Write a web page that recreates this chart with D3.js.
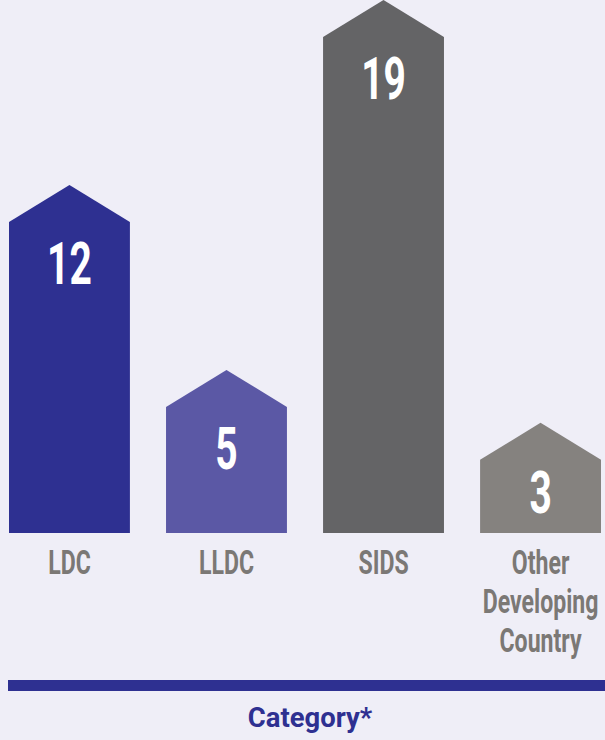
<!DOCTYPE html>
<html>
<head>
<meta charset="utf-8">
<script src="https://cdn.jsdelivr.net/npm/d3@7"></script>
<style>
  html, body { margin: 0; padding: 0; background: #efeef7; }
  svg { display: block; }
  text { font-family: Roboto, "Liberation Sans", sans-serif; font-weight: 700; }
</style>
</head>
<body>
<div id="chart"></div>
<script>
const categories = ["LDC", "LLDC", "SIDS", "Other Developing Country"];
const labelLines = [["LDC"], ["LLDC"], ["SIDS"], ["Other", "Developing", "Country"]];
const values = [12, 5, 19, 3];
const colors = ["#2e3091", "#5b58a5", "#646466", "#85827f"];
const axisTitle = "Category*";

const width = 605, height = 740;
const baseY = 533;   // bottom of the bars
const roof = 37;     // height of the pointed top

let svg = d3.select("#chart").append("svg")
  .attr("width", width)
  .attr("height", height);

let x = d3.scaleBand()
  .domain(categories)
  .range([9, 601])
  .paddingInner(0.23)
  .paddingOuter(0);

// shoulder of each bar
let y = d3.scaleLinear()
  .domain([0, 19])
  .range([539, 37]);

// condensed text: scale horizontally round the anchor point
function condensed(parent, tx, ty, sx, str) {
  return parent.append("text")
    .attr("transform", "translate(" + tx + "," + ty + ") scale(" + sx + ",1)")
    .attr("text-anchor", "middle")
    .text(str);
}

// Bars with house shaped tops
categories.forEach((c, i) => {
  let x0 = x(c), x1 = x(c) + x.bandwidth(), xm = x0 + x.bandwidth() / 2;
  let ys = y(values[i]);
  let pts = [[x0, baseY], [x0, ys], [xm, ys - roof], [x1, ys], [x1, baseY]];
  svg.append("path")
    .attr("d", d3.line()(pts) + "Z")
    .attr("fill", colors[i]);

  // value label
  let ty = Math.min(ys + 62, 513);
  condensed(svg, xm, ty, 0.66, values[i])
    .attr("font-size", 59)
    .attr("fill", "#ffffff");

  // category label
  labelLines[i].forEach((line, j) => {
    condensed(svg, xm, 574 + j * 39, 0.7, line)
      .attr("font-size", 33)
      .attr("fill", "#7b7875");
  });
});

// baseline bar
svg.append("rect")
  .attr("x", 8)
  .attr("y", 680)
  .attr("width", width - 8)
  .attr("height", 11)
  .attr("fill", "#2e3091");

condensed(svg, 310, 727, 0.98, axisTitle)
  .attr("font-size", 28)
  .attr("fill", "#2e3091");
</script>
</body>
</html>
